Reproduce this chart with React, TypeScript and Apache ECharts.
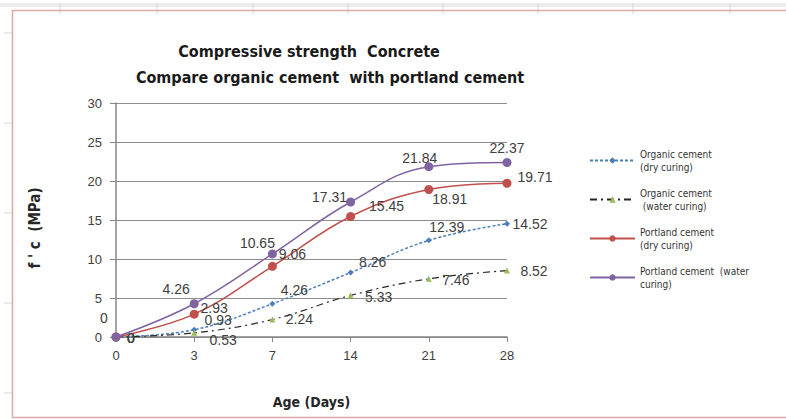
import React, { useEffect, useRef } from "react";
import * as echarts from "echarts";

const ages = ["0", "3", "7", "14", "21", "28"];
const organicDry = [0, 0.93, 4.26, 8.26, 12.39, 14.52];
const organicWater = [0, 0.53, 2.24, 5.33, 7.46, 8.52];
const portlandDry = [0, 2.93, 9.06, 15.45, 18.91, 19.71];
const portlandWater = [0, 4.26, 10.65, 17.31, 21.84, 22.37];

const seriesNames = [
  "Organic cement\n(dry curing)",
  "Organic cement\n (water curing)",
  "Portland cement\n(dry curing)",
  "Portland cement  (water\ncuring)",
];

// label centre offsets (px) from each point
const offOrganicDry = [[15, 1], [24, -10], [22, -14], [22, -11], [18, -13], [23, 0]];
const offOrganicWater = [[15, 1], [29, 7], [27, -1], [28, 2], [27, 1], [27, 0]];
const offPortlandDry = [[15, 1], [20, -6], [20, -12], [36, -10], [21, 9], [28, -6]];
const offPortlandWater = [[-12, -19], [-18, -15], [-15, -11], [-21, -5], [-9, -9], [0, -15]];

const labelFont = "'Liberation Sans', Arial, sans-serif";
const narrowFont = "'Liberation Sans Narrow', 'DejaVu Sans Condensed', 'Liberation Sans', sans-serif";

function withLabels(vals: number[], offs: number[][]) {
  return vals.map((v, i) => ({
    value: v,
    label: { offset: offs[i] },
  }));
}

export default function App() {
  const ref = useRef<HTMLDivElement>(null);
  useEffect(() => {
    if (!ref.current) return;
    const chart = echarts.init(ref.current, undefined, { renderer: "svg" });
    const baseLabel = {
      show: true,
      position: "inside",
      color: "#404040",
      fontSize: 14,
      fontFamily: labelFont,
    };
    const topTicks = [60, 157, 253, 348, 443, 538, 633, 730];
    const graphics: any[] = [
      { type: "rect", shape: { x: 0, y: 3, width: 786, height: 4 }, style: { fill: "#ececec" }, silent: true },
      ...topTicks.map((x) => ({
        type: "line",
        shape: { x1: x, y1: 3, x2: x, y2: 14 },
        style: { stroke: "#d6d6d6", lineWidth: 1 },
        silent: true,
      })),
      ...[33, 123, 213, 303, 393].map((y) => ({
        type: "line",
        shape: { x1: 4, y1: y, x2: 12, y2: y },
        style: { stroke: "#d6d6d6", lineWidth: 1 },
        silent: true,
      })),
      {
        type: "rect",
        shape: { x: 12.5, y: 10.5, width: 800, height: 407 },
        style: { fill: "none", stroke: "#dca9a9", lineWidth: 1.5 },
        silent: true,
      },
    ];
    chart.setOption({
      animation: false,
      backgroundColor: "#ffffff",
      title: [
        {
          text: "Compressive strength  Concrete",
          left: 304,
          top: 38,
          textAlign: "center",
          textStyle: { fontSize: 16, fontWeight: "bold", fontFamily: narrowFont, color: "#1a1a1a" },
        },
        {
          text: "Compare organic cement  with portland cement",
          left: 325,
          top: 64,
          textAlign: "center",
          textStyle: { fontSize: 16, fontWeight: "bold", fontFamily: narrowFont, color: "#1a1a1a" },
        },
      ],
      graphic: graphics,
      legend: {
        orient: "vertical",
        left: 584,
        top: 136,
        itemGap: 0,
        itemWidth: 45,
        itemHeight: 8,
        data: seriesNames,
        textStyle: {
          fontSize: 10,
          lineHeight: 13,
          fontFamily: narrowFont,
          color: "#333333",
          padding: [13, 0, 0, 0],
        },
      },
      grid: { left: 116, right: 279, top: 103, bottom: 82 },
      xAxis: {
        type: "category",
        data: ages,
        boundaryGap: false,
        name: "Age (Days)",
        nameLocation: "middle",
        nameGap: 58,
        nameTextStyle: { fontSize: 14, fontWeight: "bold", fontFamily: narrowFont, color: "#262626" },
        axisLine: { lineStyle: { color: "#868686", width: 1.5 } },
        axisTick: { show: true, length: 5, alignWithLabel: true, lineStyle: { color: "#868686" } },
        axisLabel: { fontSize: 13, color: "#404040", margin: 12, fontFamily: labelFont },
        splitLine: { show: false },
      },
      yAxis: {
        type: "value",
        min: 0,
        max: 30,
        interval: 5,
        name: "f ' c  (MPa)",
        nameLocation: "middle",
        nameGap: 74,
        nameTextStyle: {
          fontSize: 15,
          fontWeight: "bold",
          fontFamily: narrowFont,
          color: "#262626",
          padding: [0, 16, 0, 0],
        },
        axisLine: { show: true, lineStyle: { color: "#868686", width: 1.5 } },
        axisTick: { show: true, length: 6, lineStyle: { color: "#868686" } },
        axisLabel: { fontSize: 13, color: "#404040", margin: 14, fontFamily: labelFont },
        splitLine: { show: true, lineStyle: { color: "#8c8c8c", width: 1.2 } },
      },
      series: [
        {
          name: seriesNames[0],
          type: "line",
          smooth: 0.4,
          data: withLabels(organicDry, offOrganicDry),
          symbol: "diamond",
          symbolSize: 6,
          itemStyle: { color: "#4a7ebb" },
          lineStyle: { color: "#4a7ebb", width: 1.5, type: [3, 2] },
          label: baseLabel,
          z: 2,
        },
        {
          name: seriesNames[1],
          type: "line",
          smooth: 0.4,
          data: withLabels(organicWater, offOrganicWater),
          symbol: "triangle",
          symbolSize: 6,
          itemStyle: { color: "#9bbb59" },
          lineStyle: { color: "#262626", width: 1.2, type: [7, 4, 2, 4] },
          label: baseLabel,
          z: 2,
        },
        {
          name: seriesNames[2],
          type: "line",
          smooth: 0.4,
          data: withLabels(portlandDry, offPortlandDry),
          symbol: "circle",
          symbolSize: 9,
          itemStyle: { color: "#c0504d" },
          lineStyle: { color: "#c0504d", width: 1.5 },
          label: baseLabel,
          z: 3,
        },
        {
          name: seriesNames[3],
          type: "line",
          smooth: 0.4,
          data: withLabels(portlandWater, offPortlandWater),
          symbol: "circle",
          symbolSize: 9,
          itemStyle: { color: "#8064a2" },
          lineStyle: { color: "#8064a2", width: 1.5 },
          label: baseLabel,
          z: 4,
        },
      ],
    });
    return () => chart.dispose();
  }, []);
  return (
    <div
      ref={ref}
      style={{ position: "fixed", left: 0, top: 0, width: 786, height: 419 }}
    />
  );
}
